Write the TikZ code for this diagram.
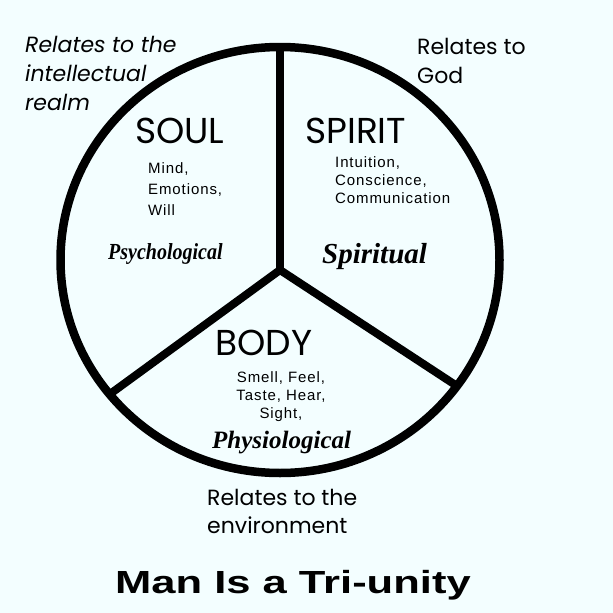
\documentclass[tikz,border=0pt]{standalone}
\usepackage{fontspec}
\setmainfont{Liberation Sans}
\newfontfamily\gothic{Poppins}
\newfontfamily\lsans{Liberation Sans}[LetterSpace=6]
\newfontfamily\tnr{Liberation Serif}
\newfontfamily\arialb{Liberation Sans}
\definecolor{bg}{RGB}{243,254,255}
\tikzset{
  rim/.style={line width=8.5pt},
  spoke/.style={line width=8pt},
  realm/.style={font=\gothic\fontsize{22}{29}\selectfont, align=left, inner sep=0pt, anchor=base west},
  part/.style={font=\gothic\fontsize{36}{40}\selectfont, inner sep=0pt, anchor=base west},
  items/.style={font=\lsans\fontsize{15}{18}\selectfont, inner sep=0pt, anchor=base west, align=left},
  aspect/.style={font=\tnr\bfseries\itshape, inner sep=0pt, anchor=base west},
  titlestyle/.style={font=\arialb\bfseries\fontsize{32}{36}\selectfont, inner sep=0pt, anchor=base west}
}
\begin{document}
\begin{tikzpicture}[x=1pt,y=-1pt]
\fill[bg] (0,0) rectangle (613,613);
\useasboundingbox (0,0) rectangle (613,613);
% circle and spokes
\draw[rim] (280,260) ellipse [x radius=219.5pt, y radius=213pt];
\coordinate (c) at (280,270);
\coordinate (top) at (280,47);
\coordinate (ll) at (110,394);
\coordinate (lr) at (457,386);
\draw[spoke] (c) -- (top);
\draw[spoke] (c) -- (ll);
\draw[spoke] (c) -- (lr);
% outer labels (anchor at baseline of last line)
\node[realm, font=\gothic\itshape\fontsize{22}{29}\selectfont] (intel) at (25,110) {Relates to the\\intellectual\\realm};
\node[realm] (god) at (417,83) {Relates to\\God};
\node[realm, font=\gothic\fontsize{22}{28}\selectfont] (env) at (207,533) {Relates to the\\environment};
% parts
\node[part] (soul) at (135,143) {SOUL};
\node[part] (spirit) at (305,143) {SPIRIT};
\node[part] (body) at (215,355) {BODY};
% items
\node[items, font=\lsans\fontsize{15}{21}\selectfont] (souli) at (148,215) {Mind,\\Emotions,\\Will};
\node[items] (spiriti) at (335,203) {Intuition,\\Conscience,\\Communication};
\node[items, align=center, anchor=base] (bodyi) at (281,418) {Smell, Feel,\\Taste, Hear,\\Sight,};
% aspects
\node[aspect, font=\tnr\bfseries\itshape\fontsize{23}{26}\selectfont] (psy) at (108,259) {\scalebox{0.87}[1]{Psychological}};
\node[aspect, font=\tnr\bfseries\itshape\fontsize{29}{32}\selectfont] (spir) at (322,263) {Spiritual};
\node[aspect, font=\tnr\bfseries\itshape\fontsize{25}{28}\selectfont] (phys) at (212,448) {Physiological};
% title
\node[titlestyle] (title) at (115,593) {\scalebox{1.36}[1]{Man Is a Tri-unity}};
\end{tikzpicture}
\end{document}
